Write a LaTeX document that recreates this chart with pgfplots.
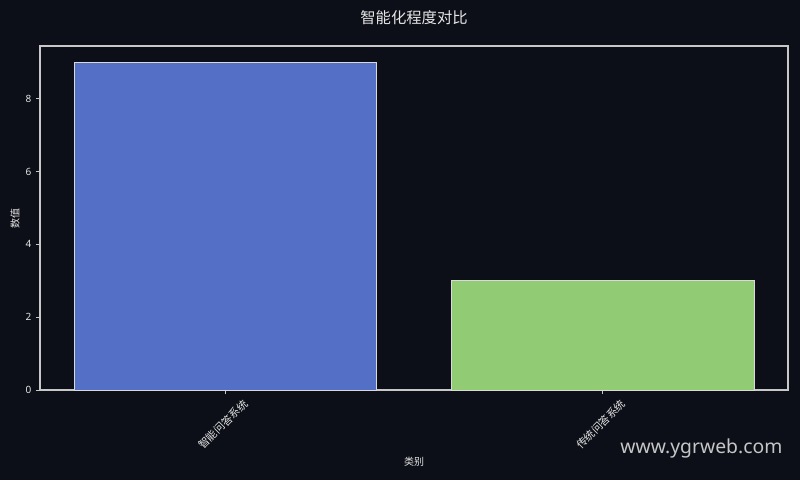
\documentclass[border=0pt]{standalone}
\usepackage{pgfplots}
\pgfplotsset{compat=1.18}
\usepackage{fontspec}
\setmainfont{Noto Sans}
\newfontfamily\cjk{Noto Sans CJK SC}
\definecolor{bg}{HTML}{0C0F17}
\definecolor{barA}{HTML}{5470C6}
\definecolor{barB}{HTML}{91CC75}
\definecolor{txt}{HTML}{E6E6E6}
\definecolor{frame}{HTML}{C8C8C8}
\begin{document}
\begin{tikzpicture}
% page 800 x 480 px at 0.75pt per px, origin bottom left
\fill[bg] (0pt,0pt) rectangle (600pt,360pt);
\begin{axis}[
    at={(30pt,67.5pt)}, anchor=south west,
    scale only axis,
    width=561pt, height=258pt,
    xmin=-0.49, xmax=1.49,
    ymin=0, ymax=9.45,
    ybar, bar width=0.8, bar shift=0pt,
    xtick={0,1},
    xticklabels={智能问答系统,传统问答系统},
    xticklabel style={font=\cjk\fontsize{8}{9}\selectfont, xshift=11.5pt, rotate=45, anchor=north east, color=txt, inner sep=1pt, yshift=-2pt},
    ytick={0,2,4,6,8},
    yticklabel style={font=\fontsize{7.5}{8}\selectfont, color=txt},
    /pgf/number format/assume math mode=true,
    axis line style={frame, line width=0.8pt},
    tick style={frame, line width=0.6pt},
    tick align=outside,
    major tick length=3pt,
    xtick pos=bottom, ytick pos=left,
    xlabel={类别}, ylabel={数值},
    xlabel style={font=\cjk\fontsize{7.5}{8}\selectfont, color=txt, yshift=0pt},
    ylabel style={font=\cjk\fontsize{7.5}{8}\selectfont, color=txt, yshift=-2.5pt},
    clip=false,
]
\addplot[fill=barA, draw=frame!70, line width=0.5pt] coordinates {(0,9)};
\addplot[fill=barB, draw=frame!70, line width=0.5pt] coordinates {(1,3)};
\end{axis}
\node[font=\cjk\fontsize{11.5}{13}\selectfont, color=txt] at (310.5pt,346.5pt) {智能化程度对比};
\node[font=\fontsize{14.5}{16}\selectfont, color=txt!85!bg] at (526pt,24pt) {www.ygrweb.com};
\end{tikzpicture}
\end{document}
